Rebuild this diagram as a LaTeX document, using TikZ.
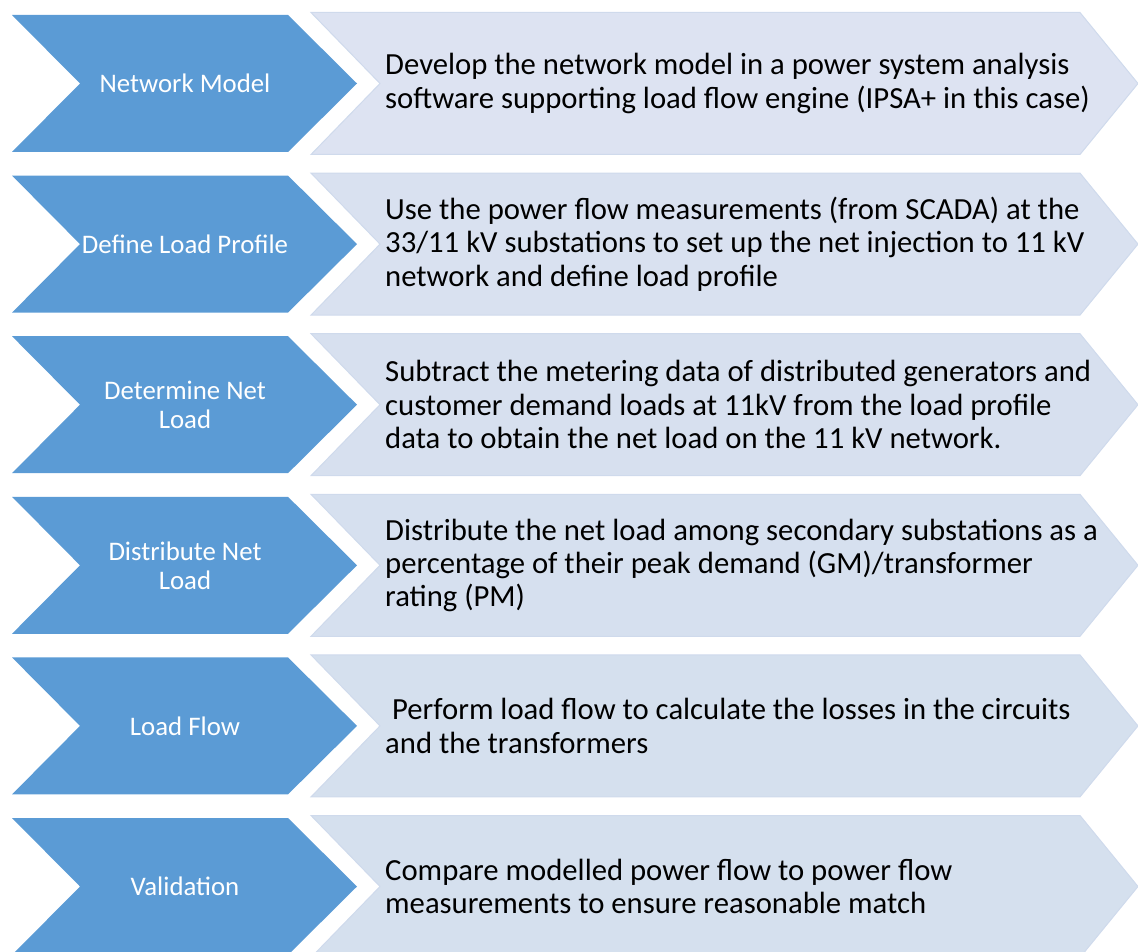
\documentclass[tikz,border=0pt]{standalone}
\usepackage{fontspec}
\setmainfont{Carlito}
\definecolor{stepblue}{HTML}{5B9BD5}
\definecolor{noteline}{HTML}{CFDAEC}
\definecolor{noteA}{HTML}{DDE3F2}
\definecolor{noteB}{HTML}{D9E1F0}
\definecolor{noteC}{HTML}{D7E0EF}
\definecolor{noteD}{HTML}{D6E0EF}
\definecolor{noteE}{HTML}{D5E0EE}
\newcommand\chevronrow[5]{%
  % #1 row index, #2 vertical centre, #3 step label, #4 description, #5 note fill
  \fill[stepchev] (12,#2-68.5) -- (288,#2-68.5) -- (357,#2) -- (288,#2+68.5)
    -- (12,#2+68.5) -- (80,#2) -- cycle;
  \filldraw[notechev, fill=#5] (311,#2-71) -- (1080,#2-71) -- (1138,#2) -- (1080,#2+71)
    -- (311,#2+71) -- (380,#2) -- cycle;
  \node[steplabel] (step#1) at (185,#2) {#3};
  \node[notetext] (note#1) at (385,#2) {#4};
}
\begin{document}
\begin{tikzpicture}[x=1pt,y=-1pt,
  stepchev/.style={fill=stepblue},
  notechev/.style={draw=noteline, line width=1pt},
  steplabel/.style={text=white, font=\fontsize{26.8}{29}\selectfont, align=center, inner sep=0pt},
  notetext/.style={text=black, font=\fontsize{30.7}{33.3}\selectfont, align=left, anchor=west, inner sep=0pt}]
\useasboundingbox (0,0) rectangle (1138,952);
\clip (0,0) rectangle (1138,952);
\chevronrow{1}{83.5}{Network Model}%
  {Develop the network model in a power system analysis\\software supporting load flow engine (IPSA+ in this case)}%
  {noteA}
\chevronrow{2}{244.1}{Define Load Profile}%
  {Use the power flow measurements (from SCADA) at the\\33/11 kV substations to set up the net injection to 11 kV\\network and define load profile}%
  {noteB}
\chevronrow{3}{404.7}{Determine Net\\Load}%
  {Subtract the metering data of distributed generators and\\customer demand loads at 11kV from the load profile\\data to obtain the net load on the 11 kV network.}%
  {noteC}
\chevronrow{4}{565.3}{Distribute Net\\Load}%
  {Distribute the net load among secondary substations as a\\percentage of their peak demand (GM)/transformer\\rating (PM)}%
  {noteD}
\chevronrow{5}{725.9}{Load Flow}%
  {\ Perform load flow to calculate the losses in the circuits\\and the transformers}%
  {noteE}
\chevronrow{6}{886.5}{Validation}%
  {Compare modelled power flow to power flow\\measurements to ensure reasonable match}%
  {noteE}
\end{tikzpicture}
\end{document}
